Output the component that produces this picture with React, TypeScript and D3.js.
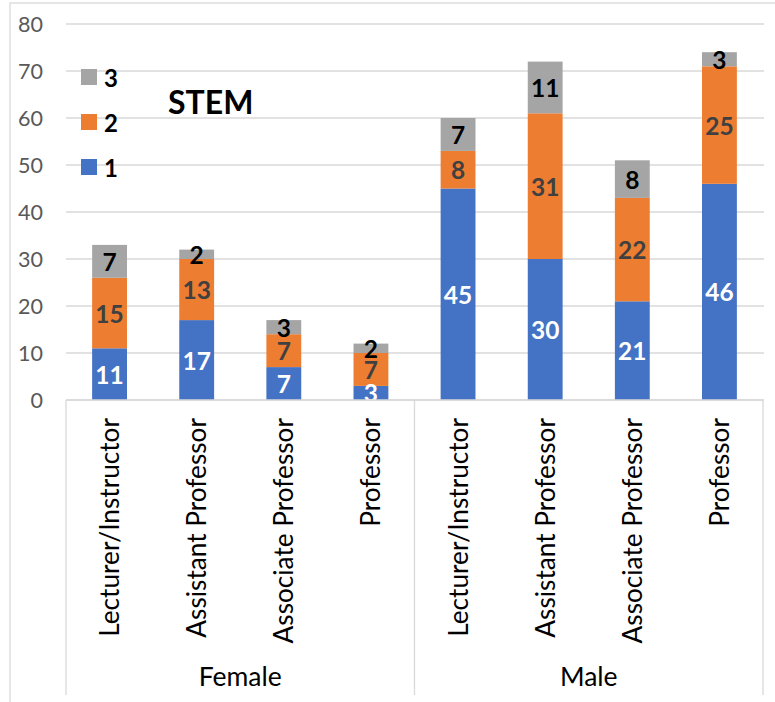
import React from "react";
import * as d3 from "d3";

// Faculty counts by rank, split by gender, stacked by level 1/2/3
const genders = ["Female", "Male"];
const ranks = ["Lecturer/Instructor", "Assistant Professor", "Associate Professor", "Professor"];
const seriesNames = ["1", "2", "3"];
const seriesColors = ["#4472C4", "#ED7D31", "#A5A5A5"];
const labelColors = ["#FFFFFF", "#404040", "#000000"];

const femaleLevel1 = [11, 17, 7, 3];
const femaleLevel2 = [15, 13, 7, 7];
const femaleLevel3 = [7, 2, 3, 2];
const maleLevel1 = [45, 30, 21, 46];
const maleLevel2 = [8, 31, 22, 25];
const maleLevel3 = [7, 11, 8, 3];

const yTicks = [0, 10, 20, 30, 40, 50, 60, 70, 80];
const title = "STEM";

const W = 775;
const H = 702;
const FONT = "Lato, 'Open Sans', sans-serif";

type Row = { key: string; gender: string; rank: string; values: number[] };

const rows: Row[] = [];
genders.forEach((g, gi) => {
  const l1 = gi === 0 ? femaleLevel1 : maleLevel1;
  const l2 = gi === 0 ? femaleLevel2 : maleLevel2;
  const l3 = gi === 0 ? femaleLevel3 : maleLevel3;
  ranks.forEach((r, ri) => {
    rows.push({ key: `${g}-${r}`, gender: g, rank: r, values: [l1[ri], l2[ri], l3[ri]] });
  });
});

export default function App() {
  const left = 66;
  const right = 763;
  const y0 = 400;
  const yTop = 24;
  const axisBottom = 695;

  const x = d3
    .scaleBand<string>()
    .domain(rows.map((d) => d.key))
    .range([left, right])
    .paddingInner(0.6)
    .paddingOuter(0.3);

  const y = d3.scaleLinear().domain([0, 80]).range([y0, yTop]);

  const stack = d3
    .stack<Row, number>()
    .keys([0, 1, 2])
    .value((d, k) => d.values[k]);
  const stacked = stack(rows);

  const groupX = d3.scaleBand<string>().domain(genders).range([left, right]);

  return (
    <svg
      width={W}
      height={H}
      style={{ position: "absolute", left: 0, top: 0, display: "block", background: "#fff" }}
      fontFamily={FONT}
    >
      <defs>
        <clipPath id="plotClip">
          <rect x={left} y={0} width={right - left} height={y0} />
        </clipPath>
      </defs>

      {/* chart frame */}
      <rect x={10} y={3} width={W + 10} height={H + 10} fill="none" stroke="#D9D9D9" strokeWidth={1.3} />

      {/* gridlines */}
      {yTicks.map((t) => (
        <line key={t} x1={left} x2={right + 1} y1={y(t)} y2={y(t)} stroke="#D9D9D9" strokeWidth={1.3} />
      ))}

      {/* y tick labels */}
      {yTicks.map((t) => (
        <text
          key={t}
          x={43}
          y={y(t)}
          textAnchor="end"
          dominantBaseline="central"
          fontSize={21.5}
          fill="#595959"
        >
          {t}
        </text>
      ))}

      {/* stacked bars */}
      {stacked.map((layer, si) => (
        <g key={si} fill={seriesColors[si]}>
          {layer.map((seg, i) => (
            <rect
              key={i}
              x={x(rows[i].key)}
              width={x.bandwidth()}
              y={y(seg[1])}
              height={y(seg[0]) - y(seg[1])}
            />
          ))}
        </g>
      ))}

      {/* value labels */}
      <g clipPath="url(#plotClip)">
        {stacked.map((layer, si) =>
          layer.map((seg, i) => (
            <text
              key={`${si}-${i}`}
              x={(x(rows[i].key) as number) + x.bandwidth() / 2}
              y={y((seg[0] + seg[1]) / 2)}
              textAnchor="middle"
              dominantBaseline="central"
              fontSize={24.5}
              fontWeight="bold"
              fill={labelColors[si]}
            >
              {rows[i].values[si]}
            </text>
          ))
        )}
      </g>

      {/* category axis */}
      <line x1={left} x2={right} y1={y0} y2={y0} stroke="#D9D9D9" strokeWidth={1.3} />
      {[left, groupX("Male") as number, right].map((xv, i) => (
        <line key={i} x1={xv} x2={xv} y1={y0} y2={axisBottom} stroke="#D9D9D9" strokeWidth={1.3} />
      ))}
      {rows.map((r) => {
        const cx = (x(r.key) as number) + x.bandwidth() / 2;
        return (
          <text
            key={r.key}
            transform={`translate(${cx + 9.5},${418}) rotate(-90)`}
            textAnchor="end"
            fontSize={26.2}
            fill="#000"
          >
            {r.rank}
          </text>
        );
      })}
      {genders.map((g) => (
        <text
          key={g}
          x={(groupX(g) as number) + groupX.bandwidth() / 2}
          y={686}
          textAnchor="middle"
          fontSize={26.5}
          fill="#000"
        >
          {g}
        </text>
      ))}

      {/* legend */}
      {seriesNames
        .map((n, i) => ({ n, i }))
        .reverse()
        .map(({ n, i }, k) => (
          <g key={n} transform={`translate(81,${69 + k * 45})`}>
            <rect width={16} height={16} fill={seriesColors[i]} />
            <text x={23} y={8} dominantBaseline="central" fontSize={24} fontWeight="bold" fill="#000">
              {n}
            </text>
          </g>
        ))}

      {/* title */}
      <text x={168} y={114} fontSize={32} fontWeight="bold" fill="#000">
        {title}
      </text>
    </svg>
  );
}
